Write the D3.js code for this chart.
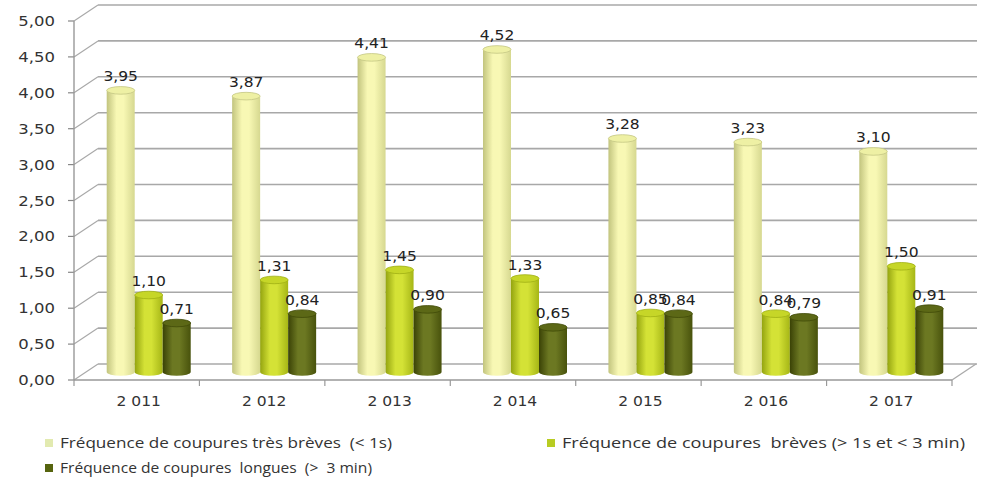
<!DOCTYPE html>
<html><head><meta charset="utf-8">
<script src="https://cdn.jsdelivr.net/npm/d3@7"></script>
<style>body{margin:0;background:#fff}svg{display:block}text{white-space:pre}</style>
</head><body>
<svg id="c" width="984" height="485"></svg>
<script>
const years = ["2 011","2 012","2 013","2 014","2 015","2 016","2 017"];
const seriesNames = ["Fréquence de coupures très brèves  (< 1s)","Fréquence de coupures  brèves (> 1s et < 3 min)","Fréquence de coupures  longues  (>  3 min)"];
const tresBreves = [3.95,3.87,4.41,4.52,3.28,3.23,3.10];
const breves = [1.10,1.31,1.45,1.33,0.85,0.84,1.50];
const longues = [0.71,0.84,0.90,0.65,0.84,0.79,0.91];
const yTicks = [0,0.5,1,1.5,2,2.5,3,3.5,4,4.5,5];

const series = [tresBreves, breves, longues];
const palettes = [
  {edge:"#c2c47e", mid:"#f8f8b4", right:"#d6d890", top:"#eef0a4", stroke:"#c4c684", legend:"#e2eab0"},
  {edge:"#94a410", mid:"#d4e236", right:"#a6b616", top:"#c6d628", stroke:"#a0b014", legend:"#b8cc22"},
  {edge:"#3a4206", mid:"#6c7822", right:"#48520c", top:"#5c6816", stroke:"#404a08", legend:"#56640e"}
];
const loc = d3.formatLocale({decimal:",",thousands:" ",grouping:[3],currency:["","€"]});
const fmt = loc.format(".2f");

const svg = d3.select("#c");
const DX = 24, DY = -16;
const y = d3.scaleLinear().domain([0,5]).range([380,21]);
const x = d3.scaleBand().domain(years).range([74,952]);
const xs = d3.scaleBand().domain([0,1,2]).range([-42,42]);

const defs = svg.append("defs");
palettes.forEach((p,i)=>{
  const g = defs.append("linearGradient").attr("id","g"+i).attr("x1","0").attr("x2","1").attr("y1","0").attr("y2","0");
  g.append("stop").attr("offset","0").attr("stop-color",p.edge);
  g.append("stop").attr("offset","0.35").attr("stop-color",p.mid);
  g.append("stop").attr("offset","0.6").attr("stop-color",p.mid);
  g.append("stop").attr("offset","1").attr("stop-color",p.right);
});

const grid = svg.append("g");
yTicks.forEach(t=>{
  grid.append("line").attr("x1",74+DX).attr("x2",977).attr("y1",y(t)+DY).attr("y2",y(t)+DY)
    .attr("stroke","#a8a8a8").attr("stroke-width",1.6);
  grid.append("line").attr("x1",74).attr("x2",74+DX).attr("y1",y(t)).attr("y2",y(t)+DY)
    .attr("stroke","#a8a8a8").attr("stroke-width",1.2);
  grid.append("line").attr("x1",68).attr("x2",74).attr("y1",y(t)).attr("y2",y(t))
    .attr("stroke","#888").attr("stroke-width",1.2);
  svg.append("text").attr("transform",`translate(55,${y(t)+5}) scale(1.22,1)`)
    .attr("text-anchor","end").attr("font-family","DejaVu Sans").attr("font-size",13.5)
    .attr("fill","#333").text(fmt(t));
});
grid.append("line").attr("x1",74).attr("x2",74).attr("y1",y(0)).attr("y2",y(5)).attr("stroke","#999").attr("stroke-width",1.4);
grid.append("line").attr("x1",74).attr("x2",952).attr("y1",y(0)).attr("y2",y(0)).attr("stroke","#999").attr("stroke-width",1.4);
grid.append("line").attr("x1",952).attr("x2",952+DX).attr("y1",y(0)).attr("y2",y(0)+DY).attr("stroke","#aaa").attr("stroke-width",1.4);
years.forEach((yr,i)=>{
  grid.append("line").attr("x1",x(yr)).attr("x2",x(yr)).attr("y1",y(0)).attr("y2",y(0)+6).attr("stroke","#999").attr("stroke-width",1.2);
  svg.append("text").attr("transform",`translate(${x(yr)+x.bandwidth()/2+2},${y(0)+26}) scale(1.15,1)`)
    .attr("text-anchor","middle").attr("font-family","DejaVu Sans").attr("font-size",13.5)
    .attr("fill","#333").text(yr);
});
grid.append("line").attr("x1",952).attr("x2",952).attr("y1",y(0)).attr("y2",y(0)+6).attr("stroke","#999").attr("stroke-width",1.2);

const bw = xs.bandwidth(), rx = bw/2, ry = 3.8;
const bars = svg.append("g");
const labels = svg.append("g");
years.forEach((yr,i)=>{
  const cx0 = x(yr) + x.bandwidth()/2 + DX/2;
  series.forEach((vals,s)=>{
    const v = vals[i];
    const x0 = cx0 + xs(s), x1 = x0 + bw, cx = x0 + rx;
    const yt = y(v) + DY/2 + 2, yb = y(0) + DY/2;
    const p = palettes[s];
    bars.append("path")
      .attr("d",`M${x0},${yt} L${x0},${yb} A${rx},${ry} 0 0 0 ${x1},${yb} L${x1},${yt} Z`)
      .attr("fill",`url(#g${s})`);
    bars.append("ellipse").attr("cx",cx).attr("cy",yt).attr("rx",rx).attr("ry",ry)
      .attr("fill",p.top).attr("stroke",p.stroke).attr("stroke-width",0.8);
    labels.append("text").attr("transform",`translate(${cx},${yt-9}) scale(1.15,1)`)
      .attr("text-anchor","middle").attr("font-family","DejaVu Sans").attr("font-size",13.5)
      .attr("fill","#222").text(fmt(v));
  });
});

// legend
const legendPos = [[45,443,60,332],[547,443,562,403],[45,468,60,312]];
seriesNames.forEach((n,s)=>{
  const [mx,my,tx,tw] = legendPos[s];
  svg.append("rect").attr("x",mx).attr("y",my-4).attr("width",8).attr("height",8).attr("fill",palettes[s].legend);
  svg.append("text").attr("x",tx).attr("y",my+5).attr("font-family","Open Sans").attr("font-size",14)
    .attr("textLength",tw).attr("lengthAdjust","spacingAndGlyphs")
    .attr("fill","#333").text(n);
});
</script>
</body></html>
